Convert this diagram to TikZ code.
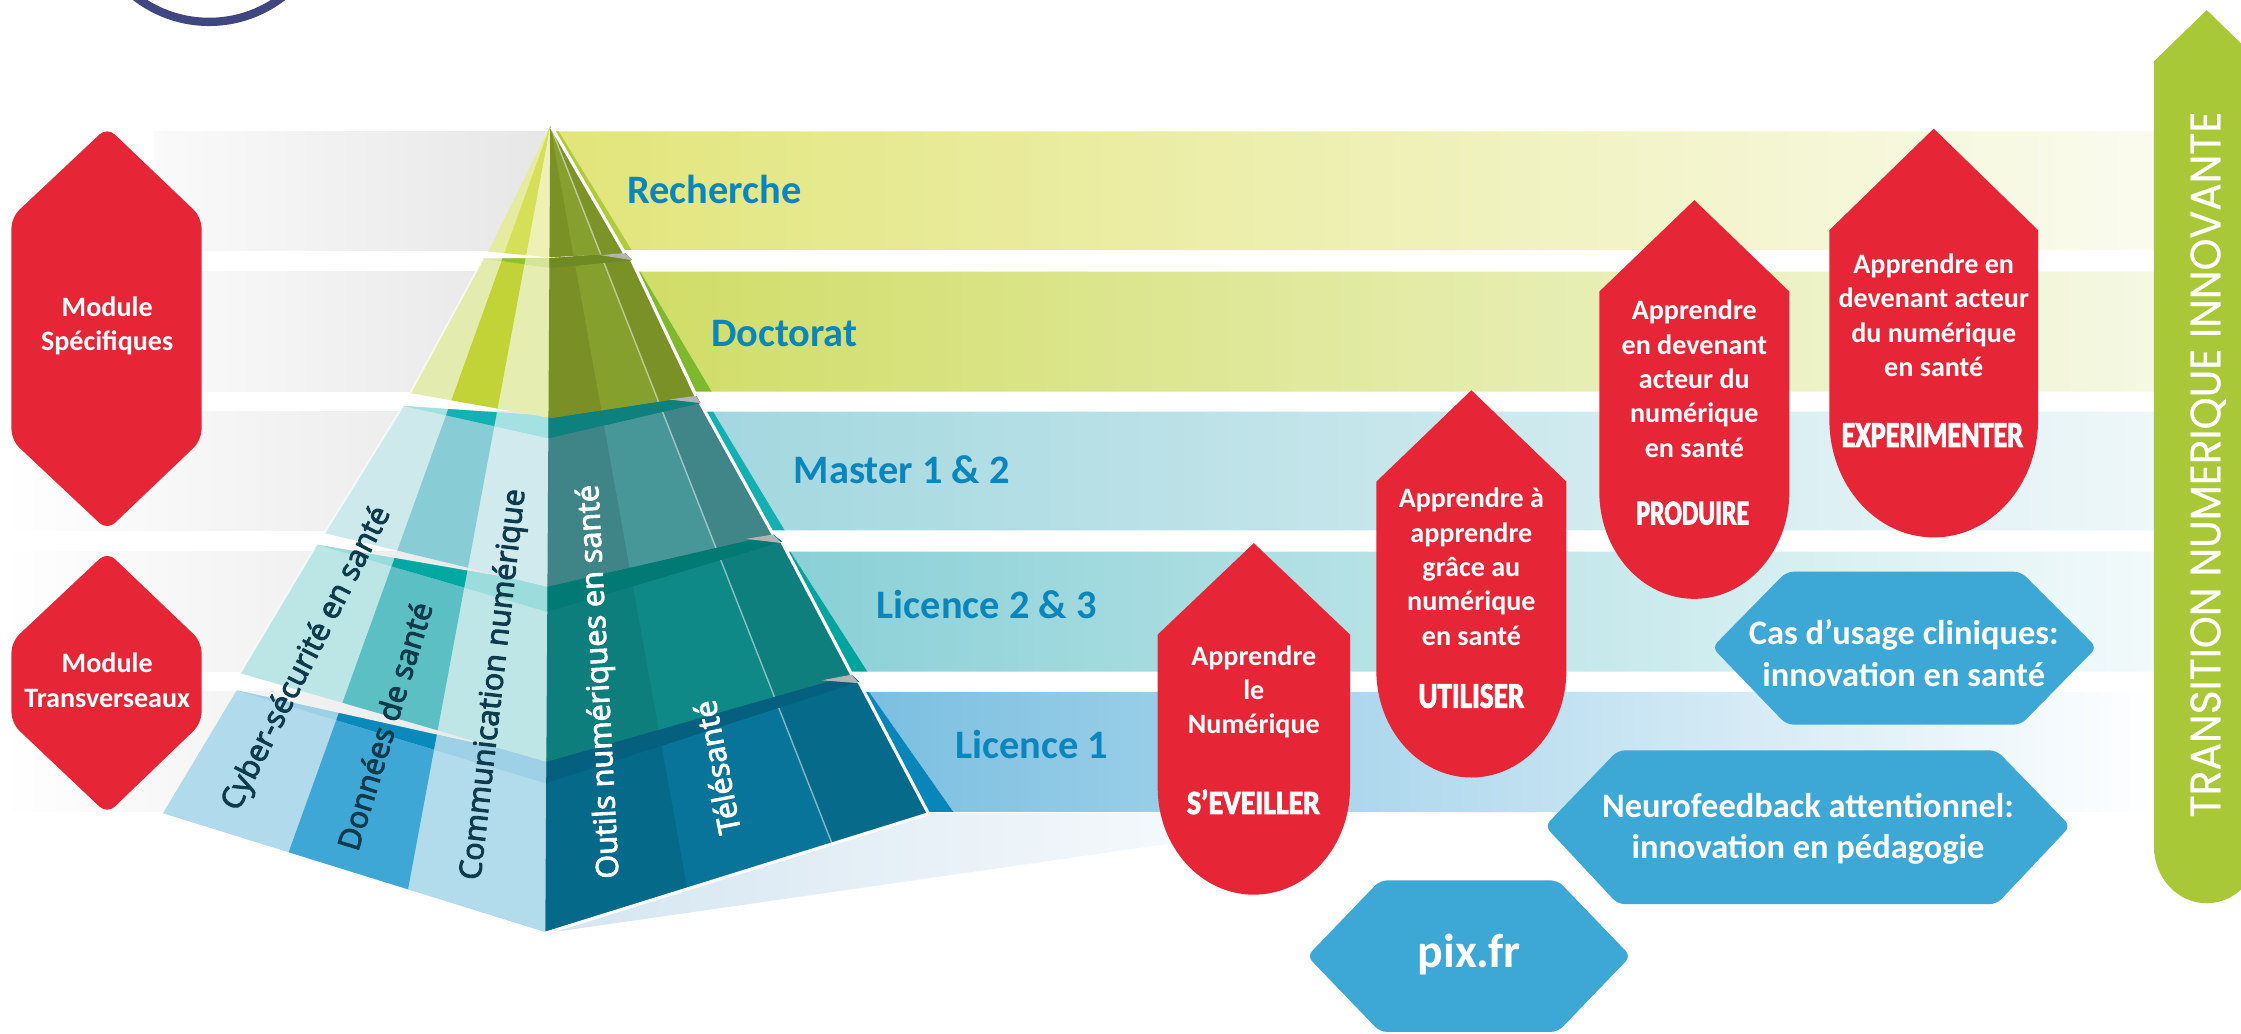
\documentclass[tikz,border=0pt]{standalone}
\usepackage{fontspec}
\setmainfont{Carlito}
\newfontfamily\pyrfont{Open Sans}[FakeBold=3]
\newfontfamily\arrowfont{Poppins}[FakeBold=0.6]
\newfontfamily\condfont{Carlito Bold}[FakeBold=3]
\usetikzlibrary{calc}

\definecolor{redc}{HTML}{E62636}
\definecolor{bluehex}{HTML}{3DA8D5}
\definecolor{greenarrow}{HTML}{A8C838}
\definecolor{navyring}{HTML}{40467F}
\definecolor{lblblue}{HTML}{0A86BC}
\definecolor{pyrdark}{HTML}{0D3B4C}
\definecolor{graylight}{HTML}{FAFAFA}
\definecolor{graydark}{HTML}{E6E6E6}
\definecolor{shadowc}{HTML}{D4E5F1}
\definecolor{wedge}{HTML}{B3B3B3}
% bands
\definecolor{b1l}{HTML}{E2E57A}\definecolor{b1m}{HTML}{EEF1B8}\definecolor{b1r}{HTML}{FAFBEE}
\definecolor{b2l}{HTML}{D0DD66}\definecolor{b2m}{HTML}{E1E99E}\definecolor{b2r}{HTML}{F5F8E3}
\definecolor{b3l}{HTML}{A3D7DF}\definecolor{b3m}{HTML}{C9E7EC}\definecolor{b3r}{HTML}{EEF7F9}
\definecolor{b4l}{HTML}{89D0D6}\definecolor{b4m}{HTML}{BEE5E8}\definecolor{b4r}{HTML}{F2FAFB}
\definecolor{b5l}{HTML}{7BBFE1}\definecolor{b5m}{HTML}{BCDFEF}\definecolor{b5r}{HTML}{FFFFFF}
\definecolor{s1}{HTML}{AFCB3C}\definecolor{s2}{HTML}{7FB82E}\definecolor{s3}{HTML}{13AFB1}
\definecolor{s4}{HTML}{00A49F}\definecolor{s5}{HTML}{0886BA}
% tiers
\definecolor{t1a}{HTML}{E6EC9F}\definecolor{t1b}{HTML}{D5DF57}\definecolor{t1c}{HTML}{EEF1B5}
\definecolor{t1d}{HTML}{7B9126}\definecolor{t1e}{HTML}{86A030}\definecolor{t1f}{HTML}{7C9329}
\definecolor{t2a}{HTML}{E3ECAE}\definecolor{t2b}{HTML}{C2D337}\definecolor{t2c}{HTML}{E5EDB1}
\definecolor{t2d}{HTML}{7A9026}\definecolor{t2e}{HTML}{85A02D}\definecolor{t2f}{HTML}{7A9128}
\definecolor{l2a}{HTML}{D3E39A}\definecolor{l2b}{HTML}{8FC02F}\definecolor{l2c}{HTML}{D5E49D}
\definecolor{l2d}{HTML}{6D8B22}
\definecolor{t3a}{HTML}{CDE9EC}\definecolor{t3b}{HTML}{88CCD5}\definecolor{t3c}{HTML}{D0EAED}
\definecolor{t3d}{HTML}{3F8587}\definecolor{t3e}{HTML}{479698}\definecolor{t3f}{HTML}{408587}
\definecolor{l3a}{HTML}{A2E0E1}\definecolor{l3b}{HTML}{12B1B3}\definecolor{l3c}{HTML}{A4E1E2}
\definecolor{l3d}{HTML}{0E807E}
\definecolor{t4a}{HTML}{BCE5E6}\definecolor{t4b}{HTML}{5BBFC4}\definecolor{t4c}{HTML}{BEE6E6}
\definecolor{t4d}{HTML}{0E7E7C}\definecolor{t4e}{HTML}{0F8987}\definecolor{t4f}{HTML}{0F7F7D}
\definecolor{l4a}{HTML}{98DCDC}\definecolor{l4b}{HTML}{00A8A2}\definecolor{l4c}{HTML}{9BDDDC}
\definecolor{l4d}{HTML}{007A73}
\definecolor{t5a}{HTML}{B1DBEC}\definecolor{t5b}{HTML}{3EA7D6}\definecolor{t5c}{HTML}{B2DCEC}
\definecolor{t5d}{HTML}{05698A}\definecolor{t5e}{HTML}{08749A}\definecolor{t5f}{HTML}{066A8B}
\definecolor{l5a}{HTML}{9CD0E5}\definecolor{l5b}{HTML}{0A89BB}\definecolor{l5c}{HTML}{9ED1E5}
\definecolor{l5d}{HTML}{055F7F}

% six stripes radiating from the apex
\newcommand\sixfill[6]{%
  \fill[#1] (A) -- (PL) -- (P3) -- cycle;
  \fill[#3] (A) -- (P2) -- (P3) -- cycle;
  \fill[#2] (A) -- (P1) -- (P2) -- cycle;
  \fill[#4] (A) -- (P3) -- (PR) -- cycle;
  \fill[#5] (A) -- (P4) -- (P5) -- cycle;
  \fill[#6] (A) -- (P5) -- (PR) -- cycle;}

% red bullet: cx, top, shoulder, half width, curve start, curve depth
\newcommand\redshape[6]{%
  \fill[redc] ({#1-#4},#5) -- ({#1-#4},#3) -- (#1,#2) -- ({#1+#4},#3) -- ({#1+#4},#5)
    arc[start angle=0, end angle=180, x radius=#4, y radius=#6];}

\begin{document}
\begin{tikzpicture}[x=0.014292cm,y=-0.014292cm,
  lbl/.style={font=\bfseries\fontsize{11.5pt}{13pt}\selectfont, text=lblblue, anchor=base west, inner sep=0pt},
  hextxt/.style={font=\bfseries\fontsize{8pt}{9.76pt}\selectfont, text=white, align=center, inner sep=0pt},
  bultxt/.style={font=\bfseries\fontsize{8pt}{9.76pt}\selectfont, text=white, align=center, inner sep=0pt},
  bigword/.style={text=white, inner sep=0pt, font=\condfont},
  bluetxt/.style={font=\bfseries\fontsize{9.8pt}{11.8pt}\selectfont, text=white, align=center, inner sep=0pt},
  pyrtxt/.style={font=\pyrfont\fontsize{8.7pt}{10pt}\selectfont, inner sep=0pt},
  edgeline/.style={white, line width=0.9pt},
  redhex/.style={fill=redc, rounded corners=3pt},
  bluehexs/.style={fill=bluehex, rounded corners=2pt}]

\useasboundingbox (0,0) rectangle (1568,723);
\fill[white] (0,0) rectangle (1568,723);

% navy ring (top left)
\draw[navyring, line width=2.36pt] (146.3,-68.9) circle[radius=84.2];

% left gray bands
\shade[left color=graylight, right color=graydark] (108,92) rectangle (390,175);
\shade[left color=graylight, right color=graydark] (108,190) rectangle (390,274);
\shade[left color=white, right color=graydark] (0,288) rectangle (390,371);
\shade[left color=white, right color=graydark] (0,386) rectangle (390,470);
\shade[left color=white, right color=graydark] (0,484) rectangle (390,568);

% right coloured bands
\shade[left color=b1l, middle color=b1m, right color=b1r] (391,92) -- (1507,92) -- (1507,175) -- (442,175) -- cycle;
\shade[left color=b2l, middle color=b2m, right color=b2r] (448,190) -- (1507,190) -- (1507,274) -- (498,274) -- cycle;
\shade[left color=b3l, middle color=b3m, right color=b3r] (499,288) -- (1507,288) -- (1507,371) -- (549,371) -- cycle;
\shade[left color=b4l, middle color=b4m, right color=b4r] (553,386) -- (1507,386) -- (1507,470) -- (607,470) -- cycle;
\shade[left color=b5l, middle color=b5m, right color=b5r] (608,484) -- (1507,484) -- (1507,568) -- (667,568) -- cycle;
% side strips
\fill[s1] (388,92) -- (391,92) -- (442,175) -- (436,175) -- cycle;
\fill[s2] (446,190) -- (448,190) -- (498,274) -- (487,274) -- cycle;
\fill[s3] (493,288) -- (499,288) -- (549,371) -- (539,371) -- cycle;
\fill[s4] (550.5,386) -- (553,386) -- (607,470) -- (595.5,470) -- cycle;
\fill[s5] (604.5,484) -- (608,484) -- (667,568) -- (648.5,568) -- cycle;

% shadow under the pyramid
\shade[left color=shadowc, right color=white] (381.5,653) -- (649.5,569) -- (966,569) -- cycle;

% pyramid construction points
\coordinate (A) at (385,88);
\coordinate (P1) at (146.7,749.7);
\coordinate (P2) at (255.8,781.6);
\coordinate (P3) at (380.5,821);
\coordinate (P4) at (509.3,779.6);
\coordinate (P5) at (641,740);
\coordinate (PL) at (-200,700);
\coordinate (PR) at (1000,700);

% tier 5 (Licence 1)
\begin{scope}
  \clip (165.6,483) -- (382,531) -- (596,472) -- (601,477) -- (649.5,569) -- (381.5,652) -- (114,569) -- cycle;
  \sixfill{t5a}{t5b}{t5c}{t5d}{t5e}{t5f}
  \draw[white, opacity=0.5, line width=0.4pt] (A) -- (P5);
\end{scope}
\begin{scope}
  \clip (165.6,483) -- (382,548) -- (601,477) -- (596,472) -- (382,531) -- cycle;
  \sixfill{l5a}{l5b}{l5c}{l5d}{l5d}{l5d}
\end{scope}
% tier 4 (Licence 2 & 3)
\begin{scope}
  \clip (221.6,381) -- (383,409) -- (541,374) -- (547,379) -- (596,472) -- (382.5,533) -- (168,471) -- cycle;
  \sixfill{t4a}{t4b}{t4c}{t4d}{t4e}{t4f}
  \draw[white, opacity=0.5, line width=0.4pt] (A) -- (P5);
\end{scope}
\begin{scope}
  \clip (221.6,381) -- (383,428) -- (547,379) -- (541,374) -- (383,409) -- cycle;
  \sixfill{l4a}{l4b}{l4c}{l4d}{l4d}{l4d}
\end{scope}
% tier 3 (Master)
\begin{scope}
  \clip (282,284) -- (384,291) -- (487,277) -- (490,282) -- (541,374) -- (383,410.5) -- (227,373) -- cycle;
  \sixfill{t3a}{t3b}{t3c}{t3d}{t3e}{t3f}
  \draw[white, opacity=0.5, line width=0.4pt] (A) -- (P5);
\end{scope}
\begin{scope}
  \clip (282,284) -- (384,306.6) -- (490,282) -- (487,277) -- (384,291) -- cycle;
  \sixfill{l3a}{l3b}{l3c}{l3d}{l3d}{l3d}
\end{scope}
% tier 2 (Doctorat)
\begin{scope}
  \clip (338,181) -- (386,180.5) -- (437,177) -- (442,182) -- (487,277) -- (386,292.5) -- (287,275) -- cycle;
  \sixfill{t2a}{t2b}{t2c}{t2d}{t2e}{t2f}
  \draw[white, opacity=0.5, line width=0.4pt] (A) -- (P5);
\end{scope}
\begin{scope}
  \clip (338,181) -- (386,187.5) -- (442,182) -- (437,177) -- (386,180.5) -- cycle;
  \sixfill{l2a}{l2b}{l2c}{l2d}{l2d}{l2d}
\end{scope}
% tier 1 (Recherche)
\begin{scope}
  \clip (385,88) -- (437,177) -- (386,180) -- (341.6,176) -- cycle;
  \sixfill{t1a}{t1b}{t1c}{t1d}{t1e}{t1f}
  \draw[white, opacity=0.5, line width=0.4pt] (A) -- (P5);
\end{scope}

% gray wedges at the right corners of the gaps
\fill[wedge] (420,178.5) -- (437,177) -- (442,182) -- cycle;
\fill[wedge] (468,279.5) -- (487,277) -- (490,282) -- cycle;
\fill[wedge] (522,377) -- (541,374) -- (547,380) -- cycle;
\fill[wedge] (575,476) -- (596,472) -- (601,478) -- cycle;

% white edges on the right side and bottom
\draw[edgeline] (386,89) -- (437,177);
\draw[edgeline] (442,182) -- (487,277);
\draw[edgeline] (490,282) -- (541,374);
\draw[edgeline] (547,379) -- (596,472);
\draw[edgeline] (601,477) -- (649.5,569);
\draw[edgeline] (381.5,653) -- (649.5,569.5);
% thin highlights on the left edges
\draw[white, line width=0.5pt, opacity=0.7] (338,181) -- (287,275);
\draw[white, line width=0.5pt, opacity=0.7] (282,284) -- (227,373);
\draw[white, line width=0.5pt, opacity=0.7] (221.6,381) -- (168,471);

% pyramid labels
\node[pyrtxt, text=pyrdark, rotate=63] (cyber) at (215,461) {Cyber-sécurité en santé};
\node[pyrtxt, text=pyrdark, rotate=73] (donnees) at (269,508) {Données de santé};
\node[pyrtxt, text=pyrdark, rotate=83.5] (comm) at (346,479) {Communication numérique};
\node[pyrtxt, text=white, rotate=93] (outils) at (420,477) {Outils numériques en santé};
\node[pyrtxt, text=white, rotate=101] (tele) at (501.5,537) {Télésanté};

% band labels
\node[lbl] (rech) at (438.5,142.3) {Recherche};
\node[lbl] (doct) at (497,242.6) {Doctorat};
\node[lbl] (mast) at (555,338) {Master 1 \& 2};
\node[lbl] (lic23) at (613,432.6) {Licence 2 \& 3};
\node[lbl] (lic1) at (668,531) {Licence 1};

% left red hexagons
\fill[redhex] (75,89) -- (141,152) -- (141,308) -- (75,371) -- (8,308) -- (8,152) -- cycle;
\node[hextxt] (modspec) at (75,228) {Module\\Spécifiques};
\fill[redhex] (75,386) -- (141,449) -- (141,506) -- (75,569.5) -- (8,506) -- (8,449) -- cycle;
\node[hextxt] (modtrans) at (75,476) {Module\\Transverseaux};

% red bullets
\redshape{877.3}{380}{444}{67.3}{551}{75}
\node[bultxt] (eveil) at (877.3,484) {Apprendre\\le\\Numérique};
\node[bigword] (eveilw) at (877,561) {\resizebox{1.329cm}{0.245cm}{S’EVEILLER}};

\redshape{1029.5}{273}{337}{66.5}{469}{75}
\node[bigword] (utilw) at (1029.5,487) {\resizebox{1.058cm}{0.235cm}{UTILISER}};
\node[bultxt] (util) at (1029.5,396.5) {Apprendre à\\apprendre\\grâce au\\numérique\\en santé};

\redshape{1185.5}{140}{204}{66.5}{344}{75}
\node[bultxt] (prod) at (1185.5,265) {Apprendre\\en devenant\\acteur du\\numérique\\en santé};
\node[bigword] (prodw) at (1184.4,359) {\resizebox{1.129cm}{0.228cm}{PRODUIRE}};

\redshape{1353}{90}{161}{73}{294}{82}
\node[bultxt] (expe) at (1353,220.5) {Apprendre en\\devenant acteur\\du numérique\\en santé};
\node[bigword] (expew) at (1352,304.4) {\resizebox{1.815cm}{0.235cm}{EXPERIMENTER}};

% blue hexagons
\fill[bluehexs] (1198,453) -- (1250,400) -- (1414,400) -- (1467,453) -- (1414,507) -- (1250,507) -- cycle;
\node[bluetxt] (cas) at (1332,457) {Cas d’usage cliniques:\\innovation en santé};
\fill[bluehexs] (1081,578) -- (1132,525) -- (1397,525) -- (1448.5,578) -- (1397,632.6) -- (1132,632.6) -- cycle;
\node[bluetxt] (neuro) at (1265,580) {Neurofeedback attentionnel:\\innovation en pédagogie};
\fill[bluehexs] (914.6,669) -- (965.6,616) -- (1090,616) -- (1141,669) -- (1090,722) -- (965.6,722) -- cycle;
\node[font=\bfseries\fontsize{13.6pt}{15pt}\selectfont, text=white, inner sep=0pt] (pix) at (1028,668) {pix.fr};

% green arrow
\fill[greenarrow] (1507,592) -- (1507,43) -- (1544,7) -- (1581,43) -- (1581,592)
  arc[start angle=0, end angle=180, x radius=37, y radius=40];
\node[rotate=90, text=white, inner sep=0pt] (trans) at (1545,325)
  {\resizebox{7.06cm}{0.30cm}{\arrowfont TRANSITION NUMERIQUE INNOVANTE}};
\end{tikzpicture}
\end{document}
